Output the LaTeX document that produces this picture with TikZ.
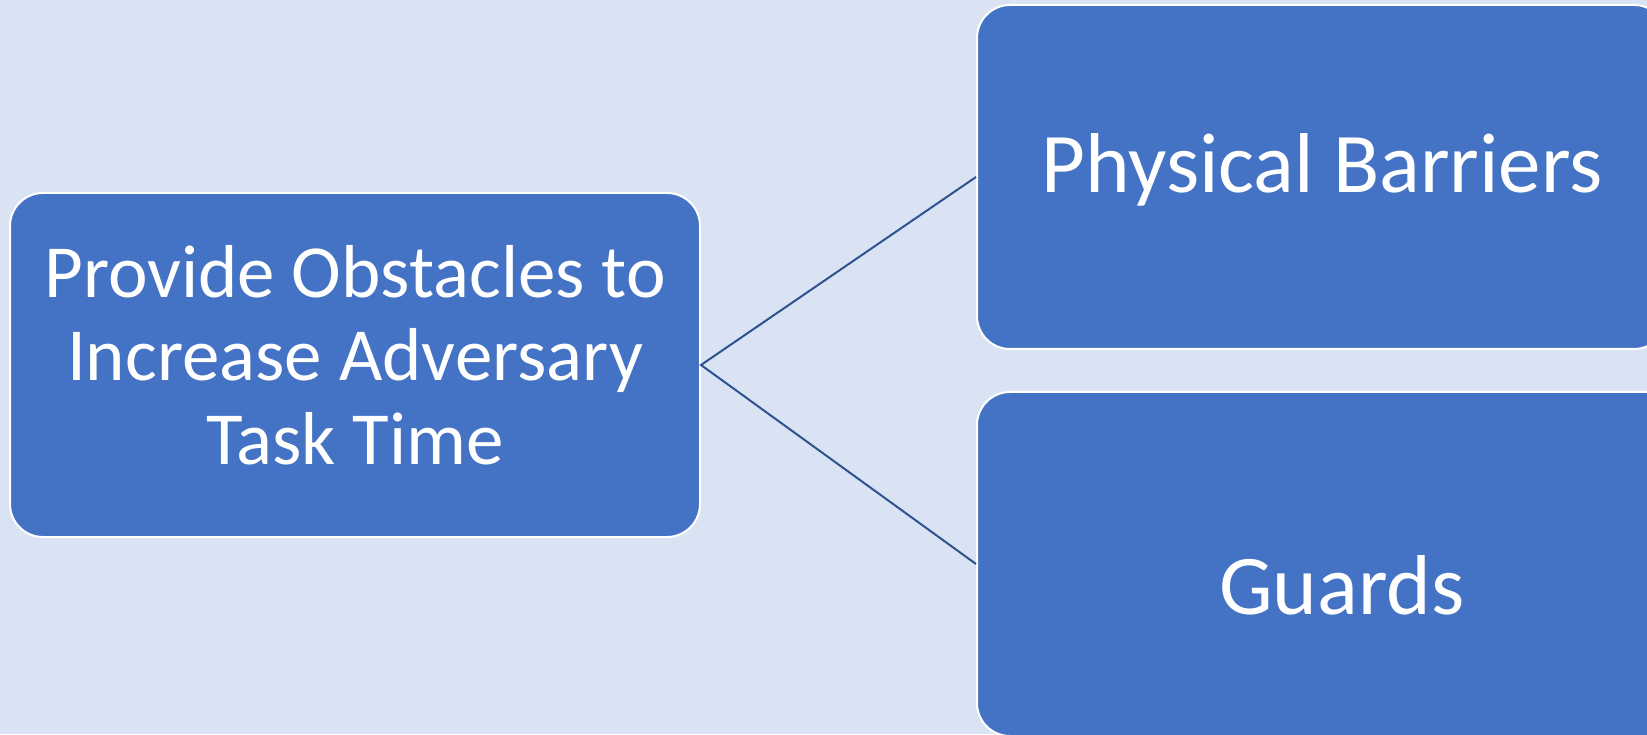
\documentclass[tikz,border=0pt]{standalone}
\usepackage{fontspec}
\setmainfont{Carlito}
\definecolor{bgblue}{HTML}{DAE3F3}
\definecolor{boxblue}{HTML}{4472C4}
\definecolor{lineblue}{HTML}{2F528F}
\begin{document}
\begin{tikzpicture} [x=1pt, y=1pt,
  box/.style={draw=white, line width=1pt, fill=boxblue, rounded corners=16.5pt,
    text=white, align=center, minimum width=345pt, minimum height=172pt, inner sep=0pt}]
\useasboundingbox (0,0) rectangle (823.5,367);
\clip (0,0) rectangle (823.5,367);
\fill[bgblue] (0,0) rectangle (823.5,367);

\node[box, font=\fontsize{37.5}{41.75}\selectfont] (goal) at (177.5,184.5)
  {Provide Obstacles to\\Increase Adversary\\Task Time\rule[-10.5pt]{0pt}{0pt}};
\node[box, font=\fontsize{42.5}{50}\selectfont, text height=28pt, text depth=12pt] (barriers) at (661,278.5) {Physical Barriers};
\node[box, minimum width=365pt, font=\fontsize{42.5}{50}\selectfont, text height=50pt, text depth=0pt] (guards) at (671,85) {Guards}; % wider, clipped at right

\draw[lineblue, line width=1pt] (barriers.west) -- (goal.east) -- (guards.west);
\end{tikzpicture}
\end{document}
